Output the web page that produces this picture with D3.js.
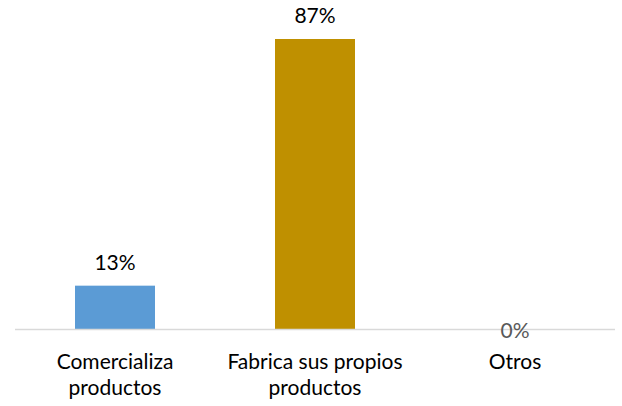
<!DOCTYPE html>
<html>
<head>
<meta charset="utf-8">
<script src="https://cdn.jsdelivr.net/npm/d3@7"></script>
<style>
  html, body { margin: 0; padding: 0; background: #ffffff; }
  svg { display: block; }
</style>
</head>
<body>
<svg id="chart" width="622" height="406"></svg>
<script>
// Categories (each label split into its display lines), values and bar colours
const categories = ["Comercializa productos", "Fabrica sus propios productos", "Otros"];
const categoryLines = [["Comercializa", "productos"], ["Fabrica sus propios", "productos"], ["Otros"]];
const values = [13, 87, 0];
const valueLabels = ["13%", "87%", "0%"];
const barColors = ["#5b9bd5", "#bf9000", "#a5a5a5"];

const width = 622, height = 406;
const plot = { left: 15, right: 615, top: 39, bottom: 329 };
const font = "Lato, 'Open Sans', sans-serif";

const svg = d3.select("#chart");

const x = d3.scaleBand()
  .domain(categories)
  .range([plot.left, plot.right])
  .paddingInner(0.6)
  .paddingOuter(0.3);

const y = d3.scaleLinear()
  .domain([0, 87])
  .range([plot.bottom, plot.top]);

// Bars
svg.append("g")
  .selectAll("rect")
  .data(categories)
  .join("rect")
  .attr("x", d => x(d))
  .attr("width", x.bandwidth())
  .attr("y", (d, i) => y(values[i]))
  .attr("height", (d, i) => y(0) - y(values[i]))
  .attr("fill", (d, i) => barColors[i]);

// Category axis along the baseline
const xAxis = svg.append("g")
  .attr("transform", `translate(0,${y(0)})`)
  .call(d3.axisBottom(x).tickSize(0).tickFormat(""));
xAxis.select(".domain")
  .attr("stroke", "#d9d9d9")
  .attr("stroke-width", 1.5)
  .attr("d", `M${plot.left},0.5H${plot.right}`);

xAxis.selectAll(".tick").each(function(d, i) {
  const t = d3.select(this).append("text")
    .attr("fill", "#000")
    .attr("text-anchor", "middle")
    .style("font-family", font)
    .style("font-weight", 400)
    .style("font-size", "21px");
  categoryLines[i].forEach((line, j) => {
    t.append("tspan")
      .attr("x", 0)
      .attr("y", 40 + j * 26)
      .text(line);
  });
});

// Value labels: above the bar, kept inside the top edge; a zero bar gets its label on the baseline
function labelY(v) {
  if (v === 0) return y(0) + 9;
  return Math.min(y(v) - 9, Math.max(y(v) - 16, 23));
}

svg.append("g")
  .selectAll("text")
  .data(categories)
  .join("text")
  .attr("x", d => x(d) + x.bandwidth() / 2)
  .attr("y", (d, i) => labelY(values[i]))
  .attr("text-anchor", "middle")
  .attr("fill", (d, i) => values[i] === 0 ? "#595959" : "#000")
  .style("font-family", font)
  .style("font-weight", 400)
  .style("font-size", "21px")
  .text((d, i) => valueLabels[i]);
</script>
</body>
</html>
